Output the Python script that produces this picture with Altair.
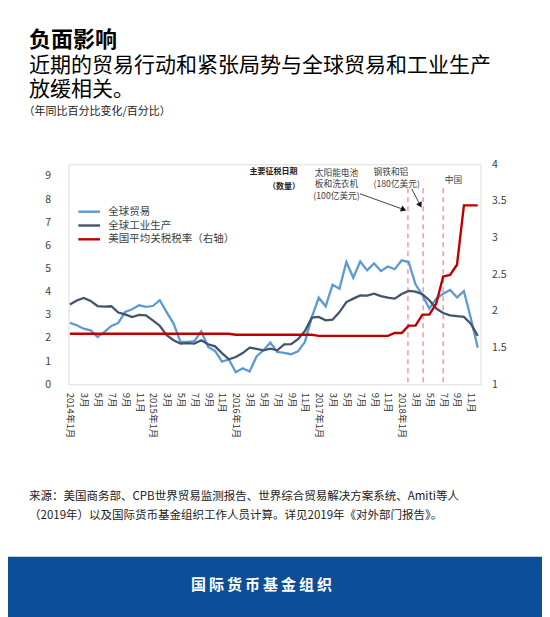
import json
import altair as alt
import pandas as pd

FONT = "Noto Sans CJK SC"

series_names = ["全球贸易", "全球工业生产", "美国平均关税税率（右轴）"]
series_colors = ["#5B9BD5", "#44546A", "#C00000"]

# month index 0 = 2014年1月 ... 59 = 2018年12月
month_index = list(range(60))

trade = [
    2.65, 2.55, 2.40, 2.33, 2.04, 2.26, 2.52, 2.65, 3.12, 3.24, 3.41, 3.34,
    3.38, 3.63, 3.12, 2.62, 1.83, 1.83, 1.86, 2.29, 1.61, 1.44, 0.98, 1.07,
    0.52, 0.69, 0.55, 1.20, 1.47, 1.80, 1.40, 1.36, 1.30, 1.42, 1.83, 2.90,
    3.74, 3.37, 4.30, 4.13, 5.28, 4.60, 5.30, 4.92, 5.22, 4.89, 5.09, 4.97,
    5.35, 5.28, 4.32, 3.85, 3.27, 3.70, 3.91, 4.07, 3.75, 4.02, 2.85, 1.58,
]
industry = [
    3.45, 3.62, 3.73, 3.60, 3.38, 3.35, 3.37, 3.10, 3.02, 2.90, 3.00, 2.98,
    2.76, 2.53, 2.12, 1.90, 1.76, 1.78, 1.76, 1.90, 1.73, 1.64, 1.35, 1.08,
    1.18, 1.35, 1.58, 1.53, 1.47, 1.54, 1.47, 1.72, 1.73, 1.95, 2.30, 2.88,
    2.91, 2.76, 2.79, 3.12, 3.55, 3.70, 3.84, 3.83, 3.91, 3.81, 3.74, 3.70,
    3.90, 4.03, 4.00, 3.89, 3.63, 3.27, 3.08, 2.98, 2.94, 2.91, 2.62, 2.09,
]
tariff = [
    1.69, 1.69, 1.69, 1.69, 1.69, 1.69, 1.69, 1.69, 1.69, 1.69, 1.69, 1.69,
    1.69, 1.69, 1.69, 1.69, 1.69, 1.69, 1.69, 1.69, 1.69, 1.69, 1.69, 1.69,
    1.675, 1.675, 1.675, 1.675, 1.675, 1.675, 1.675, 1.675, 1.675, 1.675, 1.675, 1.675,
    1.66, 1.66, 1.66, 1.66, 1.66, 1.66, 1.66, 1.66, 1.66, 1.66, 1.66, 1.70,
    1.70, 1.80, 1.80, 1.95, 1.95, 2.10, 2.47, 2.49, 2.63, 3.44, 3.44, 3.44,
]

# tariff dates (fractional month index)
tariff_events = [48.9, 51.1, 54.0]

x_tick_values = list(range(0, 60, 2))
x_tick_labels = [
    "2014年1月", "3月", "5月", "7月", "9月", "11月",
    "2015年1月", "3月", "5月", "7月", "9月", "11月",
    "2016年1月", "3月", "5月", "7月", "9月", "11月",
    "2017年1月", "3月", "5月", "7月", "9月", "11月",
    "2018年1月", "3月", "5月", "7月", "9月", "11月",
]
left_ticks = [0, 1, 2, 3, 4, 5, 6, 7, 8, 9]
right_ticks = [1, 1.5, 2, 2.5, 3, 3.5, 4]

title_text = "负面影响"
subtitle_lines = ["近期的贸易行动和紧张局势与全球贸易和工业生产", "放缓相关。"]
unit_text = "（年同比百分比变化/百分比）"
source_lines = [
    "来源：美国商务部、CPB世界贸易监测报告、世界综合贸易解决方案系统、Amiti等人",
    "（2019年）以及国际货币基金组织工作人员计算。详见2019年《对外部门报告》。",
]
banner_text = "国\u2009际\u2009货\u2009币\u2009基\u2009金\u2009组\u2009织"

W, H = 412, 220
TXT = "#404040"

xscale = alt.Scale(domain=[-0.2, 59.4], nice=False, zero=False)
x_axis = alt.Axis(
    values=x_tick_values,
    labelExpr=json.dumps(x_tick_labels, ensure_ascii=False) + "[round(datum.value / 2)]",
    labelAngle=90, labelAlign="left", labelBaseline="middle",
    labelPadding=8, ticks=False, domain=False, grid=False,
    labelFontSize=9.5, labelColor="#333333", labelFont=FONT,
    labelOverlap=False, labelFlush=False, labelBound=False, title=None,
)
y_left_axis = alt.Axis(
    values=left_ticks, orient="left", ticks=False, domain=False, grid=False,
    labelPadding=18, labelFontSize=10.5, labelColor=TXT, labelFont=FONT, title=None,
)
y_right_axis = alt.Axis(
    values=right_ticks, orient="right", format=".1~f", ticks=False, domain=False,
    grid=False, labelPadding=11, labelFontSize=10.5, labelColor=TXT, labelFont=FONT,
    title=None,
)

df = pd.DataFrame({
    "m": month_index + month_index,
    "value": trade + industry,
    "series": [series_names[0]] * 60 + [series_names[1]] * 60,
})
df_t = pd.DataFrame({"m": month_index, "value": tariff})

one = pd.DataFrame({"a": [0]})


def text(t, x, y, size, weight="normal", color=TXT, align="left", baseline="middle", **kw):
    return alt.Chart(pd.DataFrame({"t": [t]})).mark_text(
        align=align, baseline=baseline, fontSize=size, fontWeight=weight,
        color=color, font=FONT, **kw,
    ).encode(x=alt.value(x), y=alt.value(y), text="t:N")


banner = alt.Chart(one).mark_rect(color="#0C4E97").encode(
    x=alt.value(-61), x2=alt.value(474), y=alt.value(392.4), y2=alt.value(453)
)

rules = alt.Chart(pd.DataFrame({"m": tariff_events})).mark_rule(
    color="#F28B8B", strokeDash=[5, 4], strokeWidth=1.3
).encode(x=alt.X("m:Q", scale=xscale, axis=x_axis), y=alt.value(24), y2=alt.value(H))

lines = alt.Chart(df).mark_line(strokeWidth=2.3).encode(
    x=alt.X("m:Q", scale=xscale, axis=x_axis),
    y=alt.Y("value:Q", scale=alt.Scale(domain=[0, 9.5], nice=False, zero=False), axis=y_left_axis),
    color=alt.Color("series:N", scale=alt.Scale(domain=series_names[:2], range=series_colors[:2]), legend=None),
)

red = alt.Chart(df_t).mark_line(strokeWidth=2.4, color=series_colors[2]).encode(
    x=alt.X("m:Q", scale=xscale, axis=x_axis),
    y=alt.Y("value:Q", scale=alt.Scale(domain=[1, 4], nice=False, zero=False), axis=y_right_axis),
)

layers = [banner, rules, lines, red]

# legend
for i, (name, col) in enumerate(zip(series_names, series_colors)):
    yy = 47.4 + 13.8 * i
    layers.append(alt.Chart(one).mark_rule(color=col, strokeWidth=2.4).encode(
        x=alt.value(9.8), x2=alt.value(31.5), y=alt.value(yy)))
    layers.append(text(name, 39.8, yy, 10.5))

# annotations
layers += [
    text("主要征税日期", 205, 7.2, 8, weight="bold", color="#222222", align="center"),
    text("（数量）", 215.5, 23, 8, weight="bold", color="#222222", align="center"),
    text("太阳能电池\n板和洗衣机\n(100亿美元)", 268, 8.2, 8.7, align="center",
         lineBreak="\n", lineHeight=11.75),
    text("钢铁和铝\n(180亿美元)", 305, 7.4, 8.7, lineBreak="\n", lineHeight=12.6),
    text("中国", 385, 15.7, 8.7, align="center"),
]
# arrows
layers.append(alt.Chart(one).mark_rule(color="#111111", strokeWidth=0.8).encode(
    x=alt.value(291.5), y=alt.value(29.5), x2=alt.value(335.2), y2=alt.value(45.2)))
layers.append(alt.Chart(one).mark_point(shape="triangle-up", filled=True, size=40,
                                        color="#111111", opacity=1, angle=110.4).encode(
    x=alt.value(335.2), y=alt.value(45.2)))
layers.append(alt.Chart(one).mark_rule(color="#111111", strokeWidth=0.8).encode(
    x=alt.value(343.2), y=alt.value(24.5), x2=alt.value(351.7), y2=alt.value(40.8)))
layers.append(alt.Chart(one).mark_point(shape="triangle-up", filled=True, size=40,
                                        color="#111111", opacity=1, angle=152.4).encode(
    x=alt.value(351.7), y=alt.value(40.8)))

# titles and notes
layers += [
    text(title_text, -39.5, -124, 22, weight="bold", color="#000000"),
    text("\n".join(subtitle_lines), -39.5, -98.6, 21, color="#000000",
         lineBreak="\n", lineHeight=24),
    text(unit_text, -45, -52, 11, color="#222222"),
    text("\n".join(source_lines), -39.5, 332.4, 11.5, color="#222222",
         lineBreak="\n", lineHeight=19.3),
    text(banner_text, 193, 420.4, 15, weight="bold", color="#FFFFFF", align="center"),
]

chart = alt.layer(*layers).resolve_scale(y="independent").properties(
    width=W, height=H,
    autosize=alt.AutoSizeParams(type="none"),
    padding={"left": 60.5, "top": 156.3, "right": 61.5, "bottom": 232.7},
    background="white",
).configure_view(stroke="#D9D9D9", strokeWidth=1).configure_axisX(
    labelOverlap=False
).configure(font=FONT)

chart.save("out.html", embed_options={"renderer": "svg", "actions": False})
